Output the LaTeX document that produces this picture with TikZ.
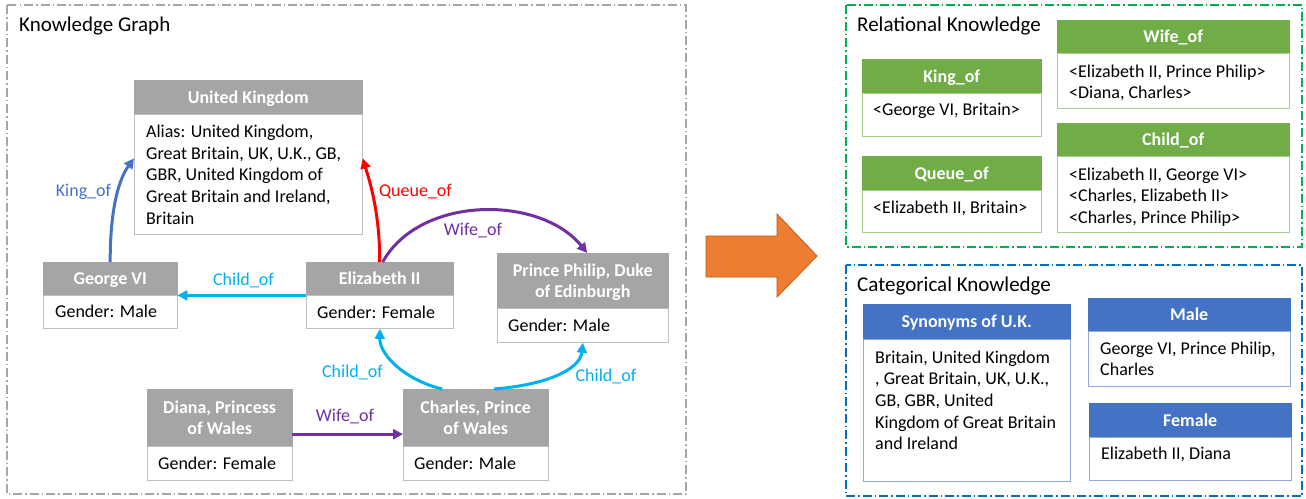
\documentclass[tikz,border=0pt]{standalone}
\usepackage{fontspec}
\setmainfont{Carlito}
\usetikzlibrary{arrows.meta,calc}
\definecolor{hgray}{HTML}{A5A5A5}
\definecolor{bgray}{HTML}{BFBFBF}
\definecolor{hgreen}{HTML}{70AD47}
\definecolor{bgreen}{HTML}{A9D18E}
\definecolor{hblue}{HTML}{4472C4}
\definecolor{bblue}{HTML}{8FAADC}
\definecolor{orng}{HTML}{ED7D31}
\definecolor{orngdark}{HTML}{C55A11}
\definecolor{cyanc}{HTML}{00B0F0}
\definecolor{purp}{HTML}{7030A0}
\definecolor{kingc}{HTML}{4472C4}
\definecolor{redc}{HTML}{FF0000}
\definecolor{pgray}{HTML}{A6A6A6}
\definecolor{pgreen}{HTML}{00B050}
\definecolor{pblue}{HTML}{0070C0}
\newcommand\bodyfont{\fontsize{18pt}{21.7pt}\selectfont}
\newcommand\titlefont{\fontsize{21pt}{25pt}\selectfont}
\begin{document}
\begin{tikzpicture}[x=1pt,y=-1pt,
  hdrbase/.style={fill=#1, draw=#1, text=white, font=\bodyfont\bfseries, inner sep=0pt, anchor=north west, align=center},
  hdr/.style={hdrbase=#1, text height=11.6pt, text depth=0pt},
  hdrtwo/.style={hdrbase=#1, text depth=0pt},
  bdy/.style={fill=white, draw=#1, line width=0.8pt, inner sep=0pt, anchor=north west},
  txt/.style={anchor=base west, inner sep=0pt, align=left, font=\bodyfont},
  ttl/.style={anchor=base west, inner sep=0pt, font=\titlefont},
  elab/.style={inner sep=0pt, font=\bodyfont, text=#1},
  rel/.style={draw=#1, line width=3pt, -{Triangle[length=10pt,width=10pt]}},
  panel/.style={draw=#1, line width=1.2pt, dash pattern=on 9pt off 3pt on 1.5pt off 3pt},
]
\useasboundingbox (0,0) rectangle (1306,498);

% panels
\draw[panel=pgray] (7,5) rectangle (686,494);
\draw[panel=pgreen] (846,5) rectangle (1302,247);
\draw[panel=pblue] (846,265) rectangle (1302,496);
\node[ttl] (kgt) at (19,31) {Knowledge Graph};
\node[ttl] (rkt) at (857,31) {Relational Knowledge};
\node[ttl] (ckt) at (857,291.5) {Categorical Knowledge};

% ---------- knowledge graph entities (txt nodes: base = last line's baseline)
\node[hdr=hgray, minimum width=228pt, minimum height=34pt] (uk-h) at (134,80) {United Kingdom};
\node[bdy=bgray, minimum width=228pt, minimum height=120pt] (uk) at (134,114) {};
\node[txt] (uk-t) at (146,224.3) {Alias: United Kingdom,\\Great Britain, UK, U.K., GB,\\GBR, United Kingdom of\\Great Britain and Ireland,\\Britain};

\node[hdr=hgray, minimum width=134pt, minimum height=33pt] (george-h) at (43,262) {George VI};
\node[bdy=bgray, minimum width=134pt, minimum height=33pt] (george) at (43,295) {};
\node[txt] (george-t) at (55,317.5) {Gender: Male};

\node[hdr=hgray, minimum width=147pt, minimum height=33pt] (eliz-h) at (306,262) {Elizabeth II};
\node[bdy=bgray, minimum width=147pt, minimum height=33pt] (eliz) at (306,295) {};
\node[txt] (eliz-t) at (317,318) {Gender: Female};

\node[hdrtwo=hgray, minimum width=171pt, minimum height=55pt] (pp-h) at (497,253) {Prince Philip, Duke\\of Edinburgh};
\node[bdy=bgray, minimum width=171pt, minimum height=34pt] (pp) at (497,308) {};
\node[txt] (pp-t) at (508,331) {Gender: Male};

\node[hdrtwo=hgray, minimum width=145pt, minimum height=57pt] (diana-h) at (147,389) {Diana, Princess\\of Wales};
\node[bdy=bgray, minimum width=145pt, minimum height=34pt] (diana) at (147,446) {};
\node[txt] (diana-t) at (158,469) {Gender: Female};

\node[hdrtwo=hgray, minimum width=145pt, minimum height=57pt] (charles-h) at (403,389) {Charles, Prince\\of Wales};
\node[bdy=bgray, minimum width=145pt, minimum height=34pt] (charles) at (403,446) {};
\node[txt] (charles-t) at (414,469) {Gender: Male};

% ---------- connectors
\draw[rel=kingc] (george-h.north) .. controls (110,195) and (124,172) .. ([yshift=16pt]uk.west);
\draw[rel=redc] (eliz-h.north) .. controls (380,210) and (368,176) .. ([yshift=16pt]uk.east);
\draw[rel=purp] ([xshift=3pt]eliz-h.north) .. controls (420,195) and (540,195) .. ([xshift=4.5pt]pp-h.north);
\draw[rel=cyanc] (eliz-h.south west) -- (george-h.south east);
\draw[rel=purp] ([yshift=-16.5pt]diana-h.east) -- ([yshift=-16.5pt]charles-h.west);
\draw[rel=cyanc] ([xshift=-33.5pt]charles-h.north) .. controls (405,380) and (379.5,355) .. (eliz.south);
\draw[rel=cyanc] ([xshift=18.5pt]charles-h.north) .. controls (545,385) and (580,370) .. (pp.south);

\node[elab=kingc] (l-king) at (83.5,192) {King\_of};
\node[elab=redc] (l-queue) at (415.5,192) {Queue\_of};
\node[elab=purp] (l-wife1) at (473,231) {Wife\_of};
\node[elab=cyanc] (l-child1) at (243.5,280) {Child\_of};
\node[elab=cyanc] (l-child2) at (352.5,372) {Child\_of};
\node[elab=cyanc] (l-child3) at (606,376) {Child\_of};
\node[elab=purp] (l-wife2) at (345,417) {Wife\_of};

% ---------- big arrow
\draw[fill=orng, draw=orngdark, line width=0.8pt, line join=miter]
  (706,236) -- (777,236) -- (777,214) -- (817,256) -- (777,297) -- (777,277) -- (706,277) -- cycle;

% ---------- relational knowledge
\node[hdr=hgreen, minimum width=179pt, minimum height=34pt] (king-h) at (862,59) {King\_of};
\node[bdy=bgreen, minimum width=179pt, minimum height=43pt] (king) at (862,93) {};
\node[txt] (king-t) at (873,115) {<George VI, Britain>};

\node[hdr=hgreen, minimum width=179pt, minimum height=34pt] (queue-h) at (862,156) {Queue\_of};
\node[bdy=bgreen, minimum width=179pt, minimum height=42pt] (queue) at (862,190) {};
\node[txt] (queue-t) at (873,213) {<Elizabeth II, Britain>};

\node[hdr=hgreen, minimum width=232pt, minimum height=33pt] (wife-h) at (1057,20) {Wife\_of};
\node[bdy=bgreen, minimum width=232pt, minimum height=55pt] (wife) at (1057,53) {};
\node[txt] (wife-t) at (1069,98.7) {<Elizabeth II, Prince Philip>\\<Diana, Charles>};

\node[hdr=hgreen, minimum width=232pt, minimum height=33pt] (child-h) at (1057,123) {Child\_of};
\node[bdy=bgreen, minimum width=232pt, minimum height=76pt] (child) at (1057,156) {};
\node[txt] (child-t) at (1069,223.4) {<Elizabeth II, George VI>\\<Charles, Elizabeth II>\\<Charles, Prince Philip>};

% ---------- categorical knowledge
\node[hdr=hblue, minimum width=207pt, minimum height=35pt] (syn-h) at (863,304) {Synonyms of U.K.};
\node[bdy=bblue, minimum width=207pt, minimum height=142pt] (syn) at (863,339) {};
\node[txt] (syn-t) at (875,449.8) {Britain, United Kingdom\\, Great Britain, UK, U.K.,\\GB, GBR, United\\Kingdom of Great Britain\\and Ireland};

\node[hdr=hblue, minimum width=202pt, minimum height=33pt] (male-h) at (1088,298) {Male};
\node[bdy=bblue, minimum width=202pt, minimum height=55pt] (male) at (1088,331) {};
\node[txt] (male-t) at (1100,375.7) {George VI, Prince Philip,\\Charles};

\node[hdr=hblue, minimum width=202pt, minimum height=34pt] (female-h) at (1089,403) {Female};
\node[bdy=bblue, minimum width=202pt, minimum height=43pt] (female) at (1089,437) {};
\node[txt] (female-t) at (1101,459) {Elizabeth II, Diana};
\end{tikzpicture}
\end{document}
